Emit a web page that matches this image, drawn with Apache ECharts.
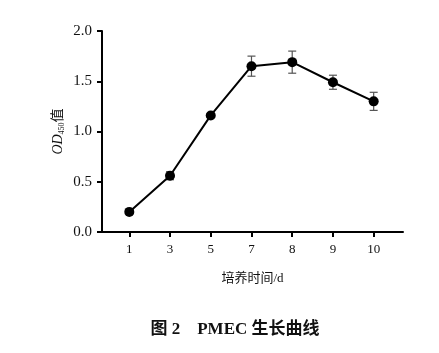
<!DOCTYPE html>
<html lang="zh">
<head>
    <meta charset="UTF-8">
    <title>PMEC 生长曲线</title>
    <script src="https://cdn.jsdelivr.net/npm/echarts@6/dist/echarts.min.js"></script>
    <style>
        html, body { margin: 0; padding: 0; background: #fff; }
        #chart { width: 439px; height: 353px; }
    </style>
</head>
<body>
<div id="chart"></div>
<script>
    // 培养天数 / OD450 均值 / 标准差
    var days = ['1', '3', '5', '7', '8', '9', '10'];
    var odValues = [0.20, 0.56, 1.16, 1.65, 1.69, 1.49, 1.30];
    var odErrors = [0.02, 0.04, 0.02, 0.10, 0.11, 0.07, 0.09];
    var yTicks = [0, 0.5, 1.0, 1.5, 2.0];

    var serif = '"Liberation Serif", "Times New Roman", serif';
    var cjk = '"Liberation Serif", "Noto Sans CJK SC", serif';

    var lineData = [];
    var errData = [];
    for (var i = 0; i < days.length; i++) {
        lineData.push([i, odValues[i]]);
        errData.push([i, odValues[i] - odErrors[i], odValues[i] + odErrors[i]]);
    }

    var chart = echarts.init(document.getElementById('chart'));
    chart.setOption({
        animation: false,
        backgroundColor: '#fff',
        title: {
            text: '图 2    PMEC 生长曲线',
            left: 230,
            textAlign: 'center',
            top: 316,
            textStyle: { fontFamily: cjk, fontSize: 17, fontWeight: 'bold', color: '#111' }
        },
        grid: { left: 102, right: 36, top: 31, bottom: 121, containLabel: false },
        xAxis: {
            type: 'value',
            min: -0.67,
            max: 6.72,
            name: '培养时间/d',
            nameLocation: 'middle',
            nameGap: 40,
            nameTextStyle: { fontFamily: cjk, fontSize: 13, color: '#111' },
            splitLine: { show: false },
            axisLine: { onZero: false, lineStyle: { color: '#000', width: 2 } },
            axisTick: {
                show: true, length: 5, lineStyle: { color: '#000', width: 2 },
                customValues: [0, 1, 2, 3, 4, 5, 6]
            },
            axisLabel: {
                margin: 11,
                fontFamily: serif, fontSize: 13, color: '#111',
                customValues: [0, 1, 2, 3, 4, 5, 6],
                formatter: function (v) { return days[Math.round(v)]; }
            }
        },
        yAxis: {
            type: 'value',
            min: 0,
            max: 2,
            interval: 0.5,
            name: '{it|OD}{sub|450}{n|值}',
            nameLocation: 'middle',
            nameGap: 36,
            nameMoveOverlap: false,
            nameRotate: 90,
            nameTextStyle: {
                rich: {
                    it: { fontFamily: serif, fontStyle: 'italic', fontSize: 14, color: '#111' },
                    sub: { fontFamily: serif, fontSize: 8, color: '#111', verticalAlign: 'bottom', padding: [7, 0, 0, 0] },
                    n: { fontFamily: cjk, fontSize: 14, color: '#111' }
                }
            },
            splitLine: { show: false },
            axisLine: { show: true, onZero: false, lineStyle: { color: '#000', width: 2 } },
            axisTick: { show: true, length: 5, lineStyle: { color: '#000', width: 2 } },
            axisLabel: {
                margin: 10,
                fontFamily: serif, fontSize: 15, color: '#111',
                customValues: yTicks,
                formatter: function (v) { return v.toFixed(1); }
            }
        },
        series: [
            {
                type: 'custom',
                z: 1,
                data: errData,
                renderItem: function (params, api) {
                    var lo = api.coord([api.value(0), api.value(1)]);
                    var hi = api.coord([api.value(0), api.value(2)]);
                    var w = 4;
                    var st = { stroke: '#555', lineWidth: 1.2 };
                    return {
                        type: 'group',
                        children: [
                            { type: 'line', shape: { x1: hi[0], y1: hi[1], x2: lo[0], y2: lo[1] }, style: st },
                            { type: 'line', shape: { x1: hi[0] - w, y1: hi[1], x2: hi[0] + w, y2: hi[1] }, style: st },
                            { type: 'line', shape: { x1: lo[0] - w, y1: lo[1], x2: lo[0] + w, y2: lo[1] }, style: st }
                        ]
                    };
                }
            },
            {
                type: 'line',
                z: 2,
                data: lineData,
                symbol: 'circle',
                symbolSize: 10,
                lineStyle: { color: '#000', width: 2 },
                itemStyle: { color: '#000' }
            }
        ]
    });
</script>
</body>
</html>
